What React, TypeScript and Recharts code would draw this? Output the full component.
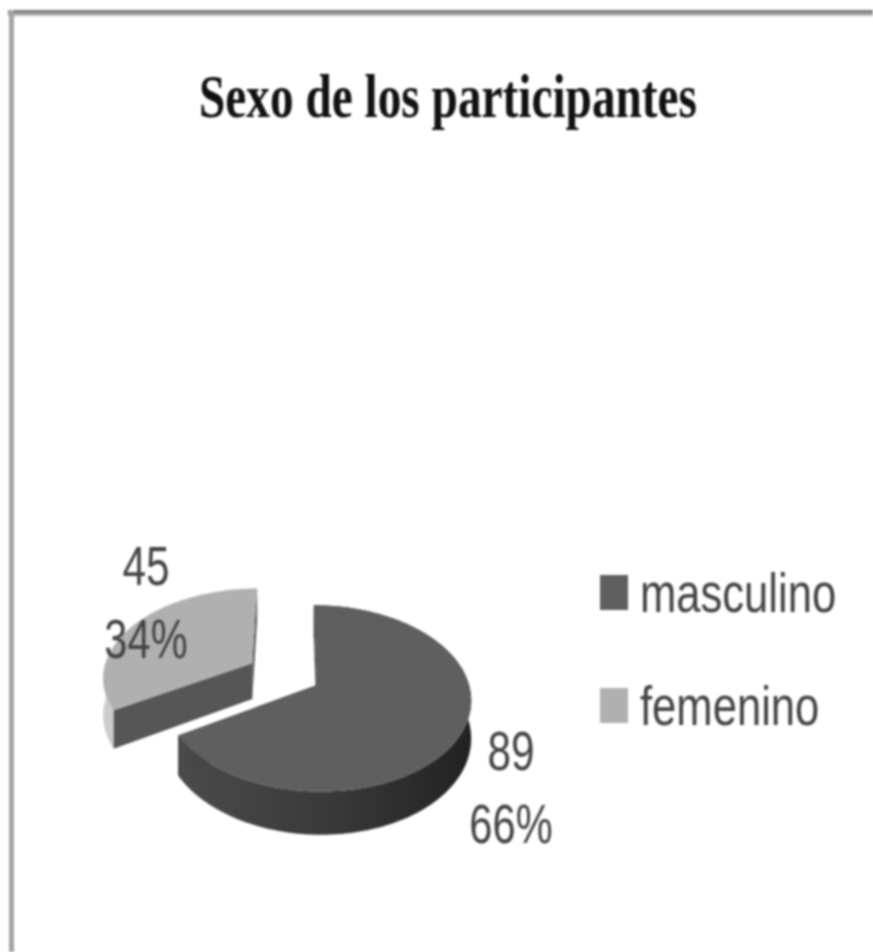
import { PieChart, Pie, Cell, Legend } from "recharts";

const categories = ["masculino", "femenino"];
const counts = [89, 45];
const sliceColors = ["#5f5f5f", "#b0b0b0"];
const wallColors = ["url(#wallDark)", "#565656"];
const rimColors = ["url(#wallDark)", "#cdcdcd"];

const chartData = categories.map((name, i) => ({ name, value: counts[i] }));

// fake 3D: perspective tilt of the pie plane
const TILT = 0.6;
const PERSP = 0.144;
const SKEW = -0.024;
const DEPTH = 37;
const EXPLODE = 0.5;
const labelPos = [
  { x: 511, y1: 770, y2: 843 },
  { x: 146, y1: 585, y2: 658 },
];

const textFont = "'Liberation Sans', sans-serif";

function PieSlice(props: any) {
  const { cx, cy, outerRadius: r, startAngle, endAngle, midAngle, fill, index } = props;
  const d = index === 1 ? EXPLODE : 0;
  const mid = (midAngle * Math.PI) / 180;
  const ox = d * Math.cos(mid);
  const oy = d * Math.sin(mid);

  const project = (u: number, v: number, drop: boolean) => {
    const w = 1 + PERSP * v;
    return {
      x: cx + (r * (u + SKEW * v)) / w,
      y: cy - (r * TILT * v) / w + (drop ? DEPTH / w : 0),
    };
  };
  const at = (deg: number, drop: boolean) => {
    const a = (deg * Math.PI) / 180;
    return project(ox + Math.cos(a), oy + Math.sin(a), drop);
  };

  const steps = Math.ceil(Math.abs(endAngle - startAngle));
  const top: { x: number; y: number }[] = [];
  const bottom: { x: number; y: number }[] = [];
  for (let i = 0; i <= steps; i++) {
    const deg = startAngle + ((endAngle - startAngle) * i) / steps;
    top.push(at(deg, false));
    bottom.push(at(deg, true));
  }
  const apex = project(ox, oy, false);
  const apexLow = project(ox, oy, true);
  const toPath = (pts: { x: number; y: number }[]) =>
    "M" + pts.map((p) => `${p.x.toFixed(1)},${p.y.toFixed(1)}`).join("L") + "Z";

  return (
    <g>
      <path d={toPath([...top, ...bottom.slice().reverse()])} fill={rimColors[index]} />
      <path d={toPath([apex, top[0], bottom[0], apexLow])} fill={wallColors[index]} />
      <path d={toPath([apex, top[steps], bottom[steps], apexLow])} fill={wallColors[index]} />
      <path d={toPath([apex, ...top])} fill={fill} />
    </g>
  );
}

function SliceLabel(props: any) {
  const { index, value, percent } = props;
  const pos = labelPos[index];
  return (
    <g fontFamily={textFont} fontSize={40} fill="#444444" textAnchor="middle">
      <text transform={`translate(${pos.x} ${pos.y1}) scale(1.06 1.38)`}>{value}</text>
      <text transform={`translate(${pos.x} ${pos.y2}) scale(1.04 1.38)`}>
        {Math.round(percent * 100)}%
      </text>
    </g>
  );
}

function LegendBox({ payload }: any) {
  const rows = [
    { y: 15, sx: 1.09 },
    { y: 128, sx: 1.09 },
  ];
  return (
    <svg width={273} height={190} style={{ display: "block" }}>
      {(payload || []).map((item: any, i: number) => (
        <g key={item.value}>
          <rect x={0} y={rows[i].y} width={28} height={35} fill={item.color} />
          <text
            transform={`translate(40 ${rows[i].y + 37}) scale(${rows[i].sx} 1.38)`}
            fontFamily={textFont}
            fontSize={40}
            fill="#444444"
          >
            {item.value}
          </text>
        </g>
      ))}
    </svg>
  );
}

export default function App() {
  return (
    <div
      style={{
        position: "absolute",
        left: 0,
        top: 0,
        width: 873,
        height: 952,
        background: "#ffffff",
        overflow: "hidden",
        filter: "blur(0.8px)",
      }}
    >
      <div style={{ position: "absolute", left: 8, top: 10, width: 865, height: 6, background: "linear-gradient(#6a6a6a, #c4c4c4)" }} />
      <div style={{ position: "absolute", left: 9, top: 10, width: 5, height: 942, background: "#a4a4a4" }} />
      <PieChart width={873} height={952} margin={{ top: 0, right: 0, bottom: 0, left: 0 }}>
        <defs>
          <linearGradient id="wallDark" x1="0" y1="0" x2="1" y2="0">
            <stop offset="0%" stopColor="#4b4b4b" />
            <stop offset="55%" stopColor="#383838" />
            <stop offset="100%" stopColor="#222222" />
          </linearGradient>
        </defs>
        <text
          x={448}
          y={117}
          textAnchor="middle"
          fontFamily="'Liberation Serif', serif"
          fontWeight="bold"
          fontSize={62}
          fill="#111111"
          textLength={498}
          lengthAdjust="spacingAndGlyphs"
        >
          Sexo de los participantes
        </text>
        <Pie
          data={chartData}
          dataKey="value"
          nameKey="name"
          cx={317}
          cy={685}
          outerRadius={152}
          startAngle={90}
          endAngle={-270}
          stroke="none"
          labelLine={false}
          label={SliceLabel}
          shape={PieSlice}
          isAnimationActive={false}
        >
          {categories.map((c, i) => (
            <Cell key={c} fill={sliceColors[i]} />
          ))}
        </Pie>
        <Legend
          content={LegendBox}
          itemSorter={null}
          wrapperStyle={{ position: "absolute", left: 600, top: 560, width: 273, bottom: "auto" }}
        />
      </PieChart>
    </div>
  );
}
